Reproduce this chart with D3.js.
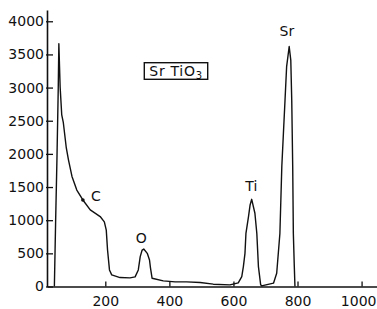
<!DOCTYPE html>
<html>
<head>
<meta charset="utf-8">
<script src="https://cdn.jsdelivr.net/npm/d3@7"></script>
<style>
  body { margin: 0; background: #fff; }
  text { font-family: "DejaVu Sans", sans-serif; fill: #111; }
</style>
</head>
<body>
<div id="container"></div>
<script>
var width = 377;
var height = 309;

// tick values
var xTicks = [200, 400, 600, 800, 1000];
var yTicks = [0, 500, 1000, 1500, 2000, 2500, 3000, 3500, 4000];

// spectrum (channel, counts)
var channel = [41, 45, 49, 53, 55, 59, 64, 69, 78, 85, 96, 111, 130, 153, 184,
    197, 203, 207, 213, 220, 246, 277, 293, 303, 309, 315, 320, 331, 338, 341,
    346, 381, 418, 454, 496, 537, 589, 615, 626, 631, 636, 639, 647, 652, 657,
    667, 673, 678, 685, 688, 725, 735, 745, 751, 756, 761, 766, 774, 779, 782,
    785, 787, 790, 792];
var counts = [0, 1000, 1910, 2960, 3660, 3010, 2590, 2470, 2100, 1910, 1660, 1455, 1305, 1155, 1055,
    975, 850, 550, 250, 175, 135, 130, 145, 250, 450, 550, 565, 500, 400, 280,
    125, 85, 70, 70, 60, 35, 25, 55, 150, 300, 500, 800, 1055, 1230, 1315,
    1105, 800, 300, 25, 10, 50, 200, 800, 1810, 2310, 2810, 3315, 3620, 3415, 2810,
    1810, 800, 300, 0];

// element labels and where they sit (channel, counts)
var peakNames = ['C', 'O', 'Ti', 'Sr'];
var peakChannel = [171, 312, 656, 767];
var peakCounts = [1365, 730, 1520, 3850];

var x = d3.scaleLinear().domain([18, 1050]).range([47, 377.6]);
var y = d3.scaleLinear().domain([0, 4170]).range([286.5, 10]);

var svg = d3.select('#container').append('svg')
    .attr('width', width)
    .attr('height', height);

var xAxis = svg.append('g')
    .attr('transform', 'translate(0,' + y(0) + ')')
    .call(d3.axisBottom(x).tickValues(xTicks).tickFormat(d3.format('d'))
        .tickSize(-5).tickSizeOuter(0).tickPadding(10));

var yAxis = svg.append('g')
    .attr('transform', 'translate(' + x(18) + ',0)')
    .call(d3.axisLeft(y).tickValues(yTicks).tickFormat(d3.format('d'))
        .tickSize(-6).tickSizeOuter(0).tickPadding(3));

[xAxis, yAxis].forEach(function (g) {
    g.select('.domain').attr('stroke', '#111').attr('stroke-width', 1.6);
    g.selectAll('.tick line').attr('stroke', '#111').attr('stroke-width', 1.3);
    g.selectAll('.tick text')
        .attr('fill', '#111')
        .style('font-family', '"DejaVu Sans", sans-serif')
        .style('font-size', '14px');
});
yAxis.selectAll('.tick line').attr('x1', -1);

// last x label runs into the right edge, keep it inside
xAxis.selectAll('.tick text')
    .filter(function (d) { return d === 1000; })
    .attr('text-anchor', 'end')
    .attr('x', width - 1 - x(1000));

var points = channel.map(function (c, i) { return [c, counts[i]]; });

var line = d3.line()
    .x(function (d) { return x(d[0]); })
    .y(function (d) { return y(d[1]); });

svg.append('path')
    .datum(points)
    .attr('d', line)
    .attr('fill', 'none')
    .attr('stroke', '#111')
    .attr('stroke-width', 1.4)
    .attr('stroke-linejoin', 'round');

// small dot on the C edge
svg.append('circle')
    .attr('cx', x(130))
    .attr('cy', y(1305))
    .attr('r', 1.8)
    .attr('fill', '#111');

svg.selectAll('.peak')
    .data(peakNames)
    .enter().append('text')
    .attr('class', 'peak')
    .attr('x', function (d, i) { return x(peakChannel[i]); })
    .attr('y', function (d, i) { return y(peakCounts[i]); })
    .attr('dy', '0.35em')
    .attr('text-anchor', 'middle')
    .style('font-size', '14px')
    .text(function (d) { return d; });

// compound label in a box
var box = svg.append('g');
var label = box.append('text')
    .attr('x', 176)
    .attr('y', 76)
    .attr('text-anchor', 'middle')
    .style('font-size', '14px')
    .style('letter-spacing', '0.7px');
label.append('tspan').text('Sr Ti');
label.append('tspan').text('O');
label.append('tspan').attr('dy', 3).style('font-size', '10px').text('3');

var bb = label.node().getBBox();
box.insert('rect', 'text')
    .attr('x', bb.x - 5)
    .attr('y', 62.7)
    .attr('width', bb.width + 10)
    .attr('height', 16.6)
    .attr('fill', 'none')
    .attr('stroke', '#111')
    .attr('stroke-width', 1.4);
</script>
</body>
</html>
